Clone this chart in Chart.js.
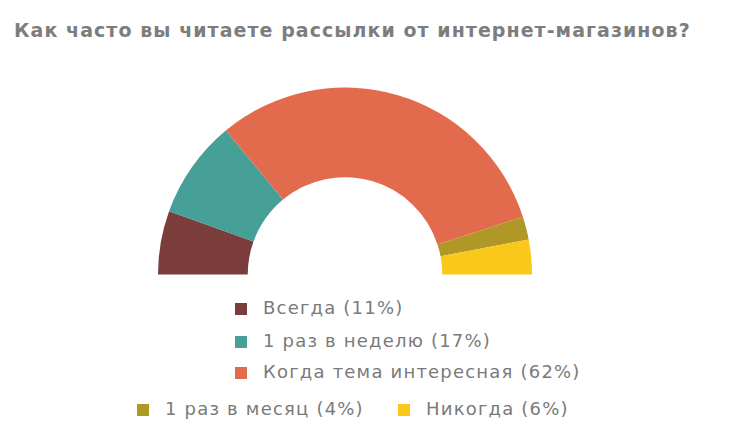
<!DOCTYPE html>
<html lang="ru">
<head>
    <meta charset="UTF-8">
    <title>Рассылки интернет-магазинов</title>
    <script src="https://cdn.jsdelivr.net/npm/chart.js@4/dist/chart.umd.min.js"></script>
    <style>
        html, body { margin: 0; padding: 0; background: #fff; }
        body { width: 730px; height: 426px; position: relative; overflow: hidden; font-family: "DejaVu Sans", Verdana, sans-serif; }
        h1 {
            position: absolute; left: 14px; top: 19px; margin: 0;
            font-size: 19px; font-weight: bold; color: #7d7d7d; white-space: nowrap;
            letter-spacing: 1.05px;
        }
        .chart-container { position: absolute; left: 158px; top: 87px; width: 374px; height: 188px; }
        .legend-item { position: absolute; font-size: 18px; color: #7a7a7a; white-space: nowrap; line-height: 20px; letter-spacing: 1.2px; }
        .legend-item span.box { display: inline-block; width: 12px; height: 12px; margin-right: 16px; vertical-align: -1px; }
    </style>
</head>
<body>
    <h1>Как часто вы читаете рассылки от интернет-магазинов?</h1>
    <div class="chart-container">
        <canvas id="chart"></canvas>
    </div>
    <div id="legend"></div>

    <script>
        const categorias = ['Всегда', '1 раз в неделю', 'Когда тема интересная', '1 раз в месяц', 'Никогда'];
        const percentuais = [11, 17, 62, 4, 6];
        const cores = ['#7b3c3c', '#46a097', '#e36b4d', '#b09826', '#f9c81b'];

        // posições da legenda (esquerda, topo)
        const posLegenda = [[235, 298], [235, 331], [235, 362], [137, 399], [398, 399]];

        const legenda = document.getElementById('legend');
        categorias.forEach((cat, i) => {
            const div = document.createElement('div');
            div.className = 'legend-item';
            div.style.left = posLegenda[i][0] + 'px';
            div.style.top = posLegenda[i][1] + 'px';
            div.innerHTML = `<span class="box" style="background:${cores[i]}"></span>${cat} (${percentuais[i]}%)`;
            legenda.appendChild(div);
        });

        new Chart(document.getElementById('chart'), {
            type: 'doughnut',
            data: {
                labels: categorias,
                datasets: [{
                    data: percentuais,
                    backgroundColor: cores,
                    borderWidth: 0
                }]
            },
            options: {
                maintainAspectRatio: false,
                responsive: true,
                animation: false,
                rotation: -90,
                circumference: 180,
                cutout: '52%',
                layout: { padding: 0 },
                plugins: {
                    legend: { display: false },
                    tooltip: { enabled: false }
                }
            }
        });
    </script>
</body>
</html>
